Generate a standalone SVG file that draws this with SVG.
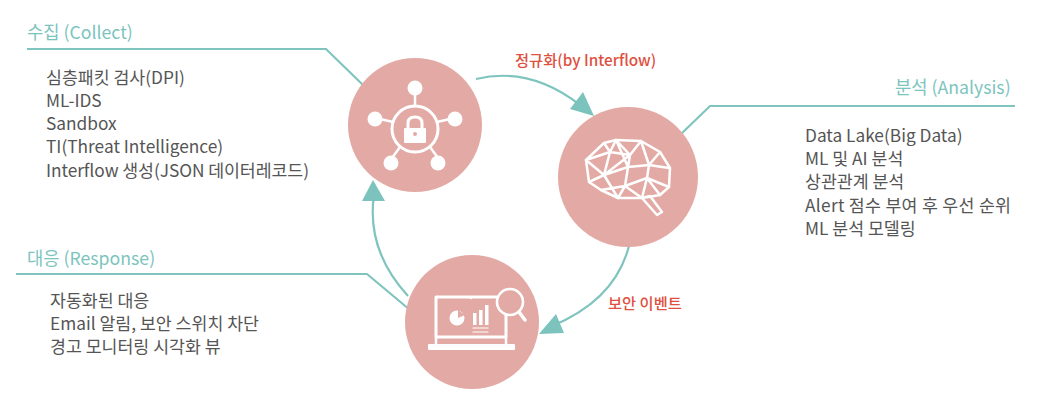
<svg xmlns="http://www.w3.org/2000/svg" width="1061" height="411" viewBox="0 0 1061 411">
<defs><style>
text{font-family:"Noto Sans CJK KR","Noto Sans",sans-serif}
.h{font-size:17.7px;fill:#7cc4be}
.b{font-size:17.3px;fill:#555}
.r{font-size:15.300px;fill:#e0503f;font-weight:500}
.c{fill:#e3aaa5}
.w{fill:none;stroke:#fff;stroke-width:2.500;stroke-linejoin:round;stroke-linecap:round}
.f{fill:#fff}
.l{fill:none;stroke:#7fc4be;stroke-width:2.2}
.a{fill:#7cc3bd}
</style></defs>
<rect width="1061" height="411" fill="#fff"/>
<g id="connectors">
<path class="l" d="M27 49H326L364 86"/>
<path class="l" d="M1015 106H710L680 135"/>
<path class="l" d="M16 274H367L410 310"/>
<path class="l" d="M476 79Q530 66 580 105"/>
<polygon class="a" points="594,116 570,109 583,92"/>
<path class="l" d="M629 246Q615 300 552 326"/>
<polygon class="a" points="539,334 556,314 564,333"/>
<path class="l" d="M408 296Q366 250 374 195"/>
<polygon class="a" points="373,180 362,201 385,201"/>
</g>
<g id="collect">
<circle class="c" cx="415" cy="125" r="67"/>
<circle class="w" style="stroke-width:3" cx="415" cy="129" r="23"/>
<path class="w" d="M415 106V92M393 122L380 119M437 122L450 119M400 147L392 158M430 147L438 158"/>
<circle class="f" cx="415" cy="88" r="7.500"/><circle class="f" cx="375" cy="119" r="7.500"/><circle class="f" cx="455" cy="119" r="7.500"/><circle class="f" cx="391" cy="163" r="7.500"/><circle class="f" cx="438" cy="163" r="7.500"/>
<path class="w" style="stroke-width:3" d="M408 128V123Q408 117 415 117Q422 117 422 123V128"/>
<rect class="f" x="404" y="128" width="22" height="15" rx="1"/>
<circle class="c" cx="415" cy="134" r="2"/>
</g>
<g id="analysis">
<circle class="c" cx="628" cy="177" r="70"/>
<path class="w" d="M586 160L604 143L616 140L641 141L660 152L670 168L669 187L660 195L642 198L650 196L662 212L657 215L642 198L618 198L601 190L589 182L586 160Z"/>
<path class="w" d="M586 160L610 152L616 140L630 155L641 141L649 165L669 168M586 160L604 175L610 152L630 155L628 167L649 165L660 152M604 175L628 167L625 186L601 190M589 182L604 175L618 198L625 186L642 198L647 178L625 186M647 178L669 187M647 178L649 165M660 195L647 178M604 143L610 152M630 155L604 175M616 140L628 167"/>
</g>
<g id="response">
<circle class="c" cx="472" cy="322" r="67"/>
<path class="w" style="stroke-width:3" d="M506 310V337H436V297H497"/>
<rect class="f" x="428" y="344" width="87" height="6" rx="1"/>
<path class="w" d="M436 338V344M506 338V344"/>
<circle class="f" cx="471" cy="298" r="1.200"/>
<circle class="f" cx="457" cy="318" r="7.500"/>
<path d="M458 318V310L465 315Z" fill="#e3aaa5"/>
<rect class="f" x="473" y="313" width="3.500" height="12"/><rect class="f" x="479" y="310" width="3.500" height="15"/><rect class="f" x="485" y="305" width="3.500" height="20"/>
<path class="w" style="stroke-width:1.200" d="M473 328H488M473 332H488"/>
<circle cx="510" cy="302" r="13" fill="#e3aaa5" stroke="#fff" stroke-width="2.600"/>
<path class="w" style="stroke-width:3.500" d="M519 312L525 320"/>
</g>
<g id="labels">
<text class="h" x="27" y="39">수집 (Collect)</text>
<text class="h" x="895" y="94">분석 (Analysis)</text>
<text class="h" x="27" y="265">대응 (Response)</text>
<text class="r" x="515" y="66">정규화(by Interflow)</text>
<text class="r" x="608" y="309">보안 이벤트</text>
<text class="b" x="46" y="84">심층패킷 검사(DPI)</text>
<text class="b" x="46" y="107">ML-IDS</text>
<text class="b" x="46" y="130">Sandbox</text>
<text class="b" x="46" y="153">TI(Threat Intelligence)</text>
<text class="b" x="46" y="177" textLength="263">Interflow 생성(JSON 데이터레코드)</text>
<text class="b" x="805" y="142">Data Lake(Big Data)</text>
<text class="b" x="805" y="165">ML 및 AI 분석</text>
<text class="b" x="805" y="188">상관관계 분석</text>
<text class="b" x="805" y="212" textLength="206">Alert 점수 부여 후 우선 순위</text>
<text class="b" x="805" y="235">ML 분석 모델링</text>
<text class="b" x="50" y="307">자동화된 대응</text>
<text class="b" x="50" y="330">Email 알림, 보안 스위치 차단</text>
<text class="b" x="50" y="353">경고 모니터링 시각화 뷰</text>
</g>
</svg>
